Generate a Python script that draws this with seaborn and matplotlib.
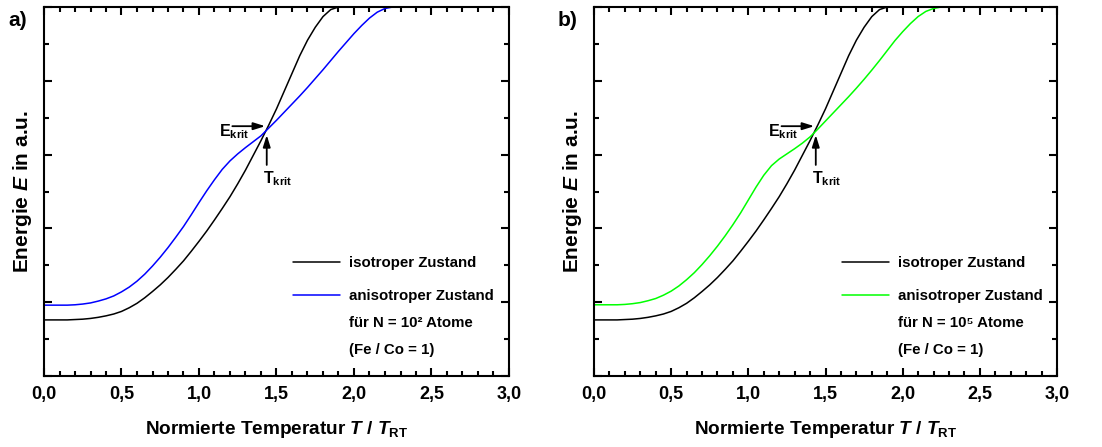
import matplotlib
matplotlib.use("Agg")
import matplotlib.pyplot as plt
import seaborn as sns
import pandas as pd
from matplotlib.lines import Line2D
from matplotlib.ticker import MultipleLocator, FuncFormatter, NullFormatter

# ---------------- data ----------------
temperature = [0.00, 0.05, 0.10, 0.15, 0.20, 0.25, 0.30, 0.35, 0.40, 0.45,
               0.50, 0.55, 0.60, 0.65, 0.70, 0.75, 0.80, 0.85, 0.90, 0.95,
               1.00, 1.05, 1.10, 1.15, 1.20, 1.25, 1.30, 1.35, 1.40, 1.45,
               1.50, 1.55, 1.60, 1.65, 1.70, 1.75, 1.80, 1.85, 1.90, 1.95,
               2.00, 2.05, 2.10, 2.15, 2.20, 2.25, 2.30, 3.00]

energy_iso = [1.52, 1.52, 1.52, 1.52, 1.53, 1.54, 1.56, 1.59, 1.63, 1.68,
              1.75, 1.85, 1.97, 2.12, 2.29, 2.47, 2.67, 2.89, 3.12, 3.38,
              3.65, 3.93, 4.23, 4.54, 4.86, 5.21, 5.58, 5.98, 6.38, 6.80,
              7.24, 7.72, 8.20, 8.68, 9.10, 9.45, 9.74, 9.93, 10.0, 10.0,
              10.0, 10.0, 10.0, 10.0, 10.0, 10.0, 10.0, 10.0]

energy_aniso_n2 = [1.92, 1.92, 1.92, 1.92, 1.93, 1.95, 1.98, 2.03, 2.09, 2.17,
                   2.28, 2.41, 2.57, 2.76, 2.98, 3.22, 3.48, 3.76, 4.05, 4.37,
                   4.70, 5.02, 5.32, 5.60, 5.83, 6.02, 6.19, 6.35, 6.51, 6.72,
                   6.93, 7.15, 7.37, 7.59, 7.82, 8.06, 8.30, 8.55, 8.80, 9.04,
                   9.28, 9.50, 9.70, 9.86, 9.96, 10.0, 10.0, 10.0]

energy_aniso_n5 = [1.93, 1.93, 1.93, 1.93, 1.94, 1.96, 1.99, 2.04, 2.10, 2.19,
                   2.30, 2.44, 2.61, 2.80, 3.02, 3.26, 3.52, 3.80, 4.10, 4.42,
                   4.77, 5.12, 5.44, 5.70, 5.88, 6.02, 6.16, 6.31, 6.48, 6.69,
                   6.91, 7.13, 7.35, 7.57, 7.80, 8.04, 8.29, 8.55, 8.82, 9.09,
                   9.33, 9.55, 9.74, 9.88, 9.96, 10.0, 10.0, 10.0]

panel_labels = ["a)", "b)"]
aniso_colors = ["#0000ff", "#00ff00"]
n_labels = ["für N = 10² Atome", "für N = 10⁵ Atome"]
t_krit = 1.437
e_krit = 6.67

# ---------------- style ----------------
sns.set_theme(style="ticks")
plt.rcParams["font.family"] = ["Liberation Sans", "DejaVu Sans"]
plt.rcParams["font.weight"] = "bold"
plt.rcParams["mathtext.fontset"] = "custom"
plt.rcParams["mathtext.rm"] = "Liberation Sans:bold"
plt.rcParams["mathtext.it"] = "Liberation Sans:bold:italic"
plt.rcParams["mathtext.bf"] = "Liberation Sans:bold"
plt.rcParams["axes.linewidth"] = 1.5
plt.rcParams["axes.edgecolor"] = "black"
plt.rcParams["xtick.color"] = "black"
plt.rcParams["ytick.color"] = "black"
plt.rcParams["text.color"] = "black"
plt.rcParams["axes.labelcolor"] = "black"

df = pd.DataFrame({"T": temperature, "iso": energy_iso,
                   "aniso2": energy_aniso_n2, "aniso5": energy_aniso_n5})

fig = plt.figure(figsize=(11.02, 4.47), dpi=100)
W, H = 1102, 447
axes_px = [(44, 509), (594, 1057)]
top_px, bot_px = 7, 376

for i, (x0, x1) in enumerate(axes_px):
    ax = fig.add_axes([x0 / W, 1 - bot_px / H, (x1 - x0) / W, (bot_px - top_px) / H])
    col = "aniso2" if i == 0 else "aniso5"
    sns.lineplot(data=df, x="T", y="iso", ax=ax, color="black", lw=1.1,
                 label="isotroper Zustand", sort=False)
    sns.lineplot(data=df, x="T", y=col, ax=ax, color=aniso_colors[i], lw=1.1,
                 label="anisotroper Zustand", sort=False)
    ax.set_xlim(0, 3.0)
    ax.set_ylim(0, 10)
    ax.xaxis.set_major_locator(MultipleLocator(0.5))
    ax.xaxis.set_minor_locator(MultipleLocator(0.1))
    ax.yaxis.set_major_locator(MultipleLocator(2))
    ax.yaxis.set_minor_locator(MultipleLocator(1))
    ax.xaxis.set_major_formatter(FuncFormatter(lambda v, p: f"{v:.1f}".replace(".", ",")))
    ax.yaxis.set_major_formatter(NullFormatter())
    ax.tick_params(which="both", direction="in", top=True, right=True, width=1.5,
                   labelsize=13, pad=7)
    ax.tick_params(which="major", length=6)
    ax.tick_params(which="minor", length=3.5)
    for lab in ax.get_xticklabels():
        lab.set_fontweight("bold")
    ax.set_xlabel(r"Normierte Temperatur $T$ / $T_{\mathrm{RT}}$", fontsize=13.7,
                  fontweight="bold", labelpad=11.5)
    ax.set_ylabel(r"Energie $E$ in a.u.", fontsize=15, fontweight="bold", labelpad=0)

    lines = ax.get_lines()
    blank = Line2D([], [], color="none")
    common = dict(loc="upper left", frameon=False, borderpad=0, borderaxespad=0,
                  handlelength=3.13, handletextpad=0.6,
                  prop={"size": 10.8, "weight": "bold"})
    leg1 = ax.legend([lines[0]], ["isotroper Zustand"],
                     bbox_to_anchor=(0.5355, 0.324), labelspacing=0.6, **common)
    ax.add_artist(leg1)
    ax.legend([lines[1], blank, blank],
              ["anisotroper Zustand", n_labels[i], "(Fe / Co = 1)"],
              bbox_to_anchor=(0.5355, 0.2345), labelspacing=0.86, **common)

    arrow = dict(arrowstyle="-|>,head_length=0.7,head_width=0.22", color="black",
                 lw=1.3, shrinkA=0, shrinkB=0, mutation_scale=10)
    ax.annotate("", xy=(t_krit - 0.01, 6.77), xytext=(1.215, 6.77), arrowprops=arrow)
    ax.annotate("", xy=(t_krit, 6.53), xytext=(t_krit, 5.72), arrowprops=arrow)
    ax.text(1.325, 6.50, r"E$_{\mathrm{krit}}$", ha="right", va="baseline",
            fontsize=11.5, fontweight="bold")
    ax.text(1.41, 5.22, r"T$_{\mathrm{krit}}$", ha="left", va="baseline",
            fontsize=11.5, fontweight="bold")

    fig.text((x0 - 26) / W, 1 - 21 / H, panel_labels[i], fontsize=15,
             fontweight="bold", ha="center", va="center")

fig.savefig("out.png", dpi=100)
